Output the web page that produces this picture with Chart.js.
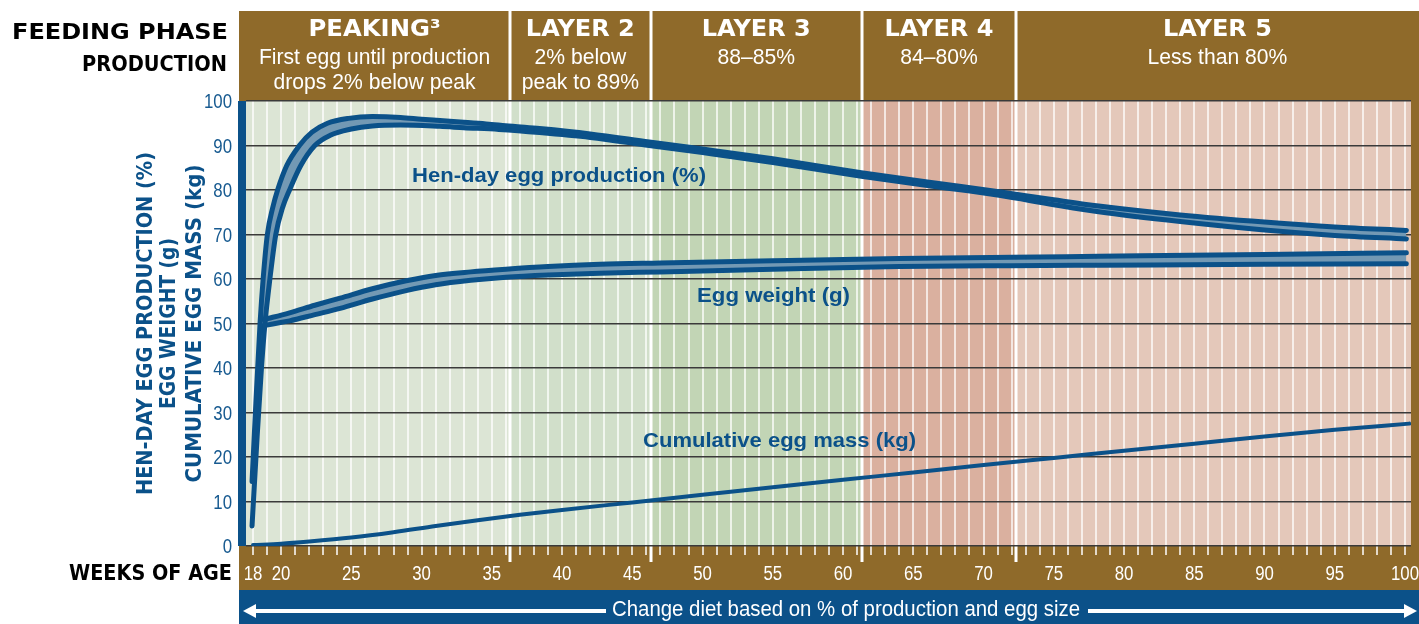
<!DOCTYPE html>
<html>
<head>
<meta charset="utf-8">
<script src="https://cdn.jsdelivr.net/npm/chart.js@4.4.1/dist/chart.umd.min.js"></script>
<style>
  html, body { margin: 0; padding: 0; background: #fff; }
  #wrap { position: relative; width: 1419px; height: 624px; }
</style>
</head>
<body>
<div id="wrap"><canvas id="chart"></canvas></div>
<script>
// weeks of age shown under the chart, and the value ticks on the left
const weekTicks = [18, 20, 25, 30, 35, 40, 45, 50, 55, 60, 65, 70, 75, 80, 85, 90, 95, 100];
const valueTicks = [0, 10, 20, 30, 40, 50, 60, 70, 80, 90, 100];

// hen-day egg production (%) - top and bottom edge of the standard band, [week, %]
const henDayHigh = [
  [17.93, 14.5], [18.2, 32], [18.5, 50], [18.72, 60], [19.02, 70], [19.4, 76], [19.75, 80],
  [20.4, 85.5], [21.3, 90], [22.2, 93], [23.3, 95], [24.8, 96.1], [26.5, 96.5], [28.5, 96.3],
  [30, 95.9], [31.3, 95.6], [33, 95.2], [34.8, 94.8], [36.5, 94.3], [38.4, 93.8], [42, 92.6],
  [46.2, 90.8], [50, 89.2], [55, 87.0], [61.3, 83.9], [66, 81.8], [71.1, 79.6], [75, 77.8],
  [78.2, 76.4], [84, 74.4], [90, 72.8], [95, 71.7], [100.1, 70.9]
];
const henDayLow = [
  [17.93, 4.5], [18.3, 25], [18.6, 40], [18.85, 50], [19.2, 60], [19.62, 70], [20.1, 76],
  [20.6, 80], [21.4, 85.5], [22.4, 90], [23.5, 92.3], [25, 93.7], [26.5, 94.4], [28.5, 94.6],
  [31.3, 94.3], [33, 94.0], [35.5, 93.6], [38.4, 92.9], [42, 91.8], [46.2, 90.0], [50, 88.4],
  [55, 86.2], [61.3, 83.1], [66, 81.0], [71.1, 78.8], [75, 76.7], [78.2, 75.1], [84, 72.9],
  [90, 71.0], [95, 69.8], [100.1, 69.0]
];

// egg weight (g)
const eggWeightHigh = [
  [18.75, 50.9], [19.4, 51.4], [20.6, 52.4], [22.4, 54.1], [24.2, 55.7], [26.5, 57.8],
  [28.9, 59.6], [31, 60.8], [33.5, 61.6], [36, 62.2], [39, 62.8], [42.7, 63.3], [47, 63.6],
  [55, 64.1], [64, 64.6], [72, 64.9], [78.2, 65.1], [90, 65.5], [100.1, 65.9]
];
const eggWeightLow = [
  [18.75, 49.5], [19.4, 49.9], [20.6, 50.6], [22.4, 52.0], [24.2, 53.4], [26.5, 55.5],
  [28.9, 57.4], [31, 58.7], [33.5, 59.7], [36, 60.4], [39, 60.9], [42.7, 61.3], [47, 61.6],
  [55, 62.2], [64, 62.8], [72, 63.0], [78.2, 63.1], [90, 63.3], [100.1, 63.4]
];

// cumulative egg mass (kg)
const eggMass = [
  [18, 0.2], [20, 0.5], [22, 1.0], [25, 1.9], [28, 3.1], [31, 4.5], [34, 5.8], [37, 7.0],
  [40, 8.1], [45, 9.8], [50, 11.5], [55, 13.2], [60, 14.9], [65, 16.5], [70, 18.2],
  [75, 19.8], [80, 21.4], [85, 23.0], [90, 24.6], [95, 26.1], [100.3, 27.5]
];

// feeding phases and the week at which each one hands over to the next
const phaseNames = ['PEAKING³', 'LAYER 2', 'LAYER 3', 'LAYER 4', 'LAYER 5'];
const phaseNotes = [
  ['First egg until production', 'drops 2% below peak'],
  ['2% below', 'peak to 89%'],
  ['88–85%'],
  ['84–80%'],
  ['Less than 80%']
];
const phaseEnds = [36.3, 46.3, 61.35, 72.3];

const BLUE = '#0b5189';
const BAND = '#7399b4';
const BROWN = '#8f6a2a';
const phaseColors = ['#dce5d5', '#d1dfca', '#c2d5b5', '#dab09f', '#e4c8ba'];
const FRAME_LEFT = 239;
const HEADER_TOP = 11;
const BOLD = '"DejaVu Sans", "Liberation Sans", sans-serif';
const PLAIN = '"Liberation Sans", Arial, sans-serif';

const toXY = pts => pts.map(p => ({ x: p[0], y: p[1] }));

// text squeezed or stretched horizontally to a given width
function drawText(ctx, text, x, y, opt) {
  ctx.save();
  ctx.font = opt.font;
  ctx.fillStyle = opt.color || '#fff';
  ctx.textAlign = opt.align || 'center';
  ctx.textBaseline = 'alphabetic';
  const w = ctx.measureText(text).width;
  const sx = opt.width ? opt.width / w : (opt.squeeze || 1);
  ctx.translate(x, y);
  if (opt.rotate) ctx.rotate(opt.rotate);
  ctx.scale(sx, 1);
  ctx.fillText(text, 0, 0);
  ctx.restore();
}

function line(ctx, x1, y1, x2, y2) {
  ctx.beginPath();
  ctx.moveTo(x1, y1);
  ctx.lineTo(x2, y2);
  ctx.stroke();
}

function arrowHead(ctx, tipX, y, dir) {
  ctx.beginPath();
  ctx.moveTo(tipX, y);
  ctx.lineTo(tipX - dir * 13, y - 7);
  ctx.lineTo(tipX - dir * 13, y + 7);
  ctx.closePath();
  ctx.fill();
}

const backdrop = {
  id: 'backdrop',
  beforeDraw(chart) {
    const { ctx, chartArea: a, scales: { x } } = chart;
    const stripBottom = a.bottom + 44;
    ctx.save();
    ctx.fillStyle = '#fff';
    ctx.fillRect(0, 0, chart.width, chart.height);

    ctx.fillStyle = BROWN;
    ctx.fillRect(FRAME_LEFT, HEADER_TOP, chart.width - FRAME_LEFT, stripBottom - HEADER_TOP);
    ctx.fillStyle = BLUE;
    ctx.fillRect(FRAME_LEFT, stripBottom, chart.width - FRAME_LEFT, chart.height - stripBottom);

    // coloured phase zones
    const edges = [a.left, ...phaseEnds.map(w => x.getPixelForValue(w)), a.right];
    phaseColors.forEach((c, i) => {
      ctx.fillStyle = c;
      ctx.fillRect(edges[i], a.top, edges[i + 1] - edges[i], a.bottom - a.top);
    });

    // one light line per week, and its tick on the brown strip
    for (let w = weekTicks[0]; w <= weekTicks[weekTicks.length - 1]; w++) {
      const px = Math.round(x.getPixelForValue(w));
      ctx.strokeStyle = 'rgba(255,255,255,0.7)';
      ctx.lineWidth = 2;
      line(ctx, px, a.top, px, a.bottom);
      ctx.strokeStyle = '#fff';
      ctx.lineWidth = 1.5;
      line(ctx, px, a.bottom, px, a.bottom + 9);
    }

    // phase dividers run through the header, the plot and the strip
    ctx.strokeStyle = '#fff';
    ctx.lineWidth = 3;
    phaseEnds.forEach(w => {
      const px = Math.round(x.getPixelForValue(w));
      line(ctx, px, HEADER_TOP, px, a.bottom + 16);
    });
    ctx.restore();
  },
  afterDraw(chart) {
    const { ctx, chartArea: a, scales: { x, y } } = chart;
    ctx.save();

    // thick axis bar on the left
    ctx.fillStyle = BLUE;
    ctx.fillRect(FRAME_LEFT - 1, a.top, a.left - FRAME_LEFT + 1, a.bottom - a.top);

    // header boxes
    const edges = [FRAME_LEFT, ...phaseEnds.map(w => x.getPixelForValue(w)), chart.width];
    phaseNames.forEach((name, i) => {
      const cx = (edges[i] + edges[i + 1]) / 2;
      drawText(ctx, name, cx, 36, { font: 'bold 23px ' + BOLD, width: i === 0 ? 132 : 109 });
      phaseNotes[i].forEach((t, j) => {
        drawText(ctx, t, cx, 63.5 + j * 25.5, { font: '22px ' + PLAIN, squeeze: 0.96 });
      });
    });

    // captions left of the frame
    drawText(ctx, 'FEEDING PHASE', 228, 38.5, { font: 'bold 22px ' + BOLD, color: '#000', align: 'right', width: 216 });
    drawText(ctx, 'PRODUCTION', 227, 71, { font: 'bold 22px ' + BOLD, color: '#000', align: 'right', width: 145 });
    drawText(ctx, 'WEEKS OF AGE', 232, 580, { font: 'bold 21px ' + BOLD, color: '#000', align: 'right', width: 163 });

    // axis title, three stacked lines
    const midY = (a.top + a.bottom) / 2;
    const titles = [
      ['HEN-DAY EGG PRODUCTION (%)', 152, 343],
      ['EGG WEIGHT (g)', 175, 171],
      ['CUMULATIVE EGG MASS (kg)', 201, 318]
    ];
    titles.forEach(([t, bx, w]) => {
      drawText(ctx, t, bx, midY, { font: 'bold 22px ' + BOLD, color: BLUE, width: w, rotate: -Math.PI / 2 });
    });

    // tick labels
    valueTicks.forEach(v => {
      drawText(ctx, String(v), 232, y.getPixelForValue(v) + 7, { font: '20px ' + PLAIN, color: '#175a90', align: 'right', squeeze: 0.84 });
    });
    weekTicks.forEach(w => {
      drawText(ctx, String(w), x.getPixelForValue(w), 579.5, { font: '20px ' + PLAIN, squeeze: 0.84 });
    });

    // series names inside the plot
    const names = [
      ['Hen-day egg production (%)', 39.78, 81.9, 294],
      ['Egg weight (g)', 55.05, 54.8, 153],
      ['Cumulative egg mass (kg)', 55.48, 22.25, 273]
    ];
    names.forEach(([t, wk, v, w]) => {
      drawText(ctx, t, x.getPixelForValue(wk), y.getPixelForValue(v), { font: 'bold 21px ' + PLAIN, color: BLUE, width: w });
    });

    // bottom note with arrows both ways
    const arrowY = 611;
    ctx.strokeStyle = '#fff';
    ctx.fillStyle = '#fff';
    ctx.lineWidth = 4;
    line(ctx, FRAME_LEFT + 12, arrowY, 606, arrowY);
    arrowHead(ctx, FRAME_LEFT + 4, arrowY, -1);
    line(ctx, 1088, arrowY, chart.width - 12, arrowY);
    arrowHead(ctx, chart.width - 2, arrowY, 1);
    drawText(ctx, 'Change diet based on % of production and egg size', 846, 616, { font: '22px ' + PLAIN, width: 468 });
    ctx.restore();
  }
};

const lineStyle = {
  borderColor: BLUE,
  borderWidth: 5,
  pointRadius: 0,
  pointHoverRadius: 0,
  borderCapStyle: 'round',
  borderJoinStyle: 'round',
  cubicInterpolationMode: 'monotone'
};

new Chart(document.getElementById('chart'), {
  type: 'line',
  data: {
    datasets: [
      { ...lineStyle, label: 'Hen-day high', data: toXY(henDayHigh), fill: '+1', backgroundColor: BAND },
      { ...lineStyle, label: 'Hen-day low', data: toXY(henDayLow), fill: false },
      { ...lineStyle, label: 'Egg weight high', data: toXY(eggWeightHigh), fill: '+1', backgroundColor: BAND },
      { ...lineStyle, label: 'Egg weight low', data: toXY(eggWeightLow), fill: false },
      { ...lineStyle, label: 'Cumulative egg mass', data: toXY(eggMass), borderWidth: 4, fill: false }
    ]
  },
  options: {
    responsive: true,
    maintainAspectRatio: false,
    devicePixelRatio: 1,
    animation: false,
    events: [],
    layout: { padding: { left: 246, top: 101, right: 8, bottom: 78 } },
    scales: {
      x: {
        type: 'linear',
        min: 17.5,
        max: 100.43,
        grid: { display: false },
        border: { display: false },
        ticks: { display: false },
        afterFit: s => { s.height = 0; }
      },
      y: {
        min: 0,
        max: 100,
        ticks: { display: false, stepSize: 10 },
        border: { display: false },
        grid: { color: '#3a3a3a', lineWidth: 1.4, drawTicks: false },
        afterFit: s => { s.width = 0; }
      }
    },
    plugins: {
      legend: { display: false },
      tooltip: { enabled: false },
      filler: { propagate: false, drawTime: 'beforeDatasetsDraw' }
    }
  },
  plugins: [backdrop]
});
</script>
</body>
</html>
